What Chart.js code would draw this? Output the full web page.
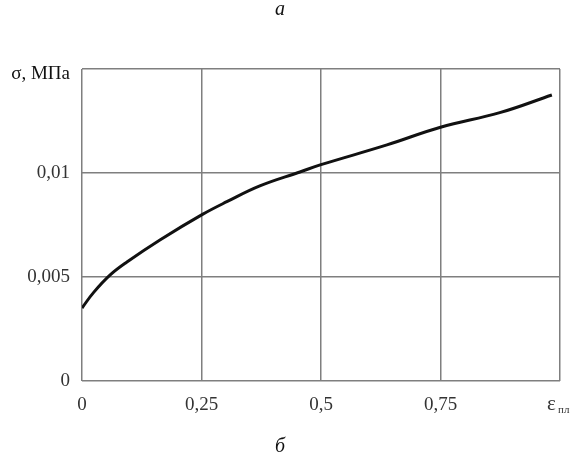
<!DOCTYPE html>
<html>
<head>
<meta charset="utf-8">
<script src="https://cdn.jsdelivr.net/npm/chart.js@4"></script>
<style>
    html, body { margin: 0; padding: 0; background: #fff; }
    #wrap { width: 576px; height: 463px; }
</style>
</head>
<body>
<div id="wrap"><canvas id="chart" width="576" height="463"></canvas></div>
<script>
// plastic strain vs stress
const strainValues = [0, 0.024, 0.059, 0.094, 0.163, 0.252, 0.303, 0.372, 0.456, 0.5, 0.638, 0.75, 0.874, 0.983];
const stressValues = [0.00351, 0.00425, 0.0051, 0.00572, 0.00678, 0.00801, 0.00862, 0.00938, 0.01005, 0.0104, 0.01135, 0.0122, 0.0129, 0.01375];
const xTicks = [0, 0.25, 0.5, 0.75, 1];
const yTicks = [0, 0.005, 0.01, 0.015];
const topCaption = "а";
const bottomCaption = "б";
const yAxisTitle = "σ, МПа";
const xAxisTitle = "ε";
const xAxisSub = "пл";

const serif = "'Liberation Serif', 'Times New Roman', serif";
const gridColor = "#7f7f7f";
const textColor = "#333";

function fmt(v) {
    return String(Math.round(v * 1000) / 1000).replace(".", ",");
}

const labelsPlugin = {
    id: "labels",
    afterDraw(chart) {
        const ctx = chart.ctx;
        const xs = chart.scales.x;
        const ys = chart.scales.y;
        ctx.save();
        ctx.fillStyle = "#111";
        ctx.font = "italic 20px " + serif;
        ctx.textAlign = "center";
        ctx.textBaseline = "middle";
        ctx.fillText(topCaption, 280, 10);
        ctx.fillText(bottomCaption, 280, 447);

        ctx.fillStyle = "#111";
        ctx.font = "normal 19px " + serif;
        ctx.textAlign = "right";
        ctx.fillText(yAxisTitle, 70, ys.getPixelForValue(0.015) + 5);

        const ex = xs.getPixelForValue(1);
        ctx.textAlign = "left";
        ctx.fillStyle = textColor;
        ctx.font = "normal 21px " + serif;
        ctx.fillText(xAxisTitle, ex - 13, 404);
        ctx.font = "normal 11px " + serif;
        ctx.fillText(xAxisSub, ex - 2, 410);
        ctx.restore();
    }
};

new Chart(document.getElementById("chart"), {
    type: "scatter",
    data: {
        datasets: [{
            data: strainValues.map((x, i) => ({ x: x, y: stressValues[i] })),
            showLine: true,
            borderColor: "#111",
            borderWidth: 3,
            pointRadius: 0,
            tension: 0.4,
            fill: false
        }]
    },
    options: {
        responsive: false,
        animation: false,
        layout: { padding: { left: 0, right: 16, top: 69, bottom: 0 } },
        plugins: {
            legend: { display: false },
            tooltip: { enabled: false }
        },
        scales: {
            x: {
                type: "linear",
                min: 0,
                max: 1,
                afterBuildTicks: s => { s.ticks = xTicks.map(v => ({ value: v })); },
                afterFit: s => { s.height = 82; },
                border: { display: false },
                grid: { color: gridColor, lineWidth: 1.5, drawTicks: false },
                ticks: {
                    padding: 13,
                    color: textColor,
                    maxRotation: 0,
                    font: { family: serif, size: 19 },
                    callback: v => (v === 1 ? "" : fmt(v))
                }
            },
            y: {
                min: 0,
                max: 0.015,
                afterBuildTicks: s => { s.ticks = yTicks.map(v => ({ value: v })); },
                afterFit: s => { s.width = 82; },
                border: { display: false },
                grid: { color: gridColor, lineWidth: 1.5, drawTicks: false },
                ticks: {
                    padding: 12,
                    color: textColor,
                    font: { family: serif, size: 19 },
                    callback: v => (v >= 0.015 ? "" : fmt(v))
                }
            }
        }
    },
    plugins: [labelsPlugin]
});
</script>
</body>
</html>
